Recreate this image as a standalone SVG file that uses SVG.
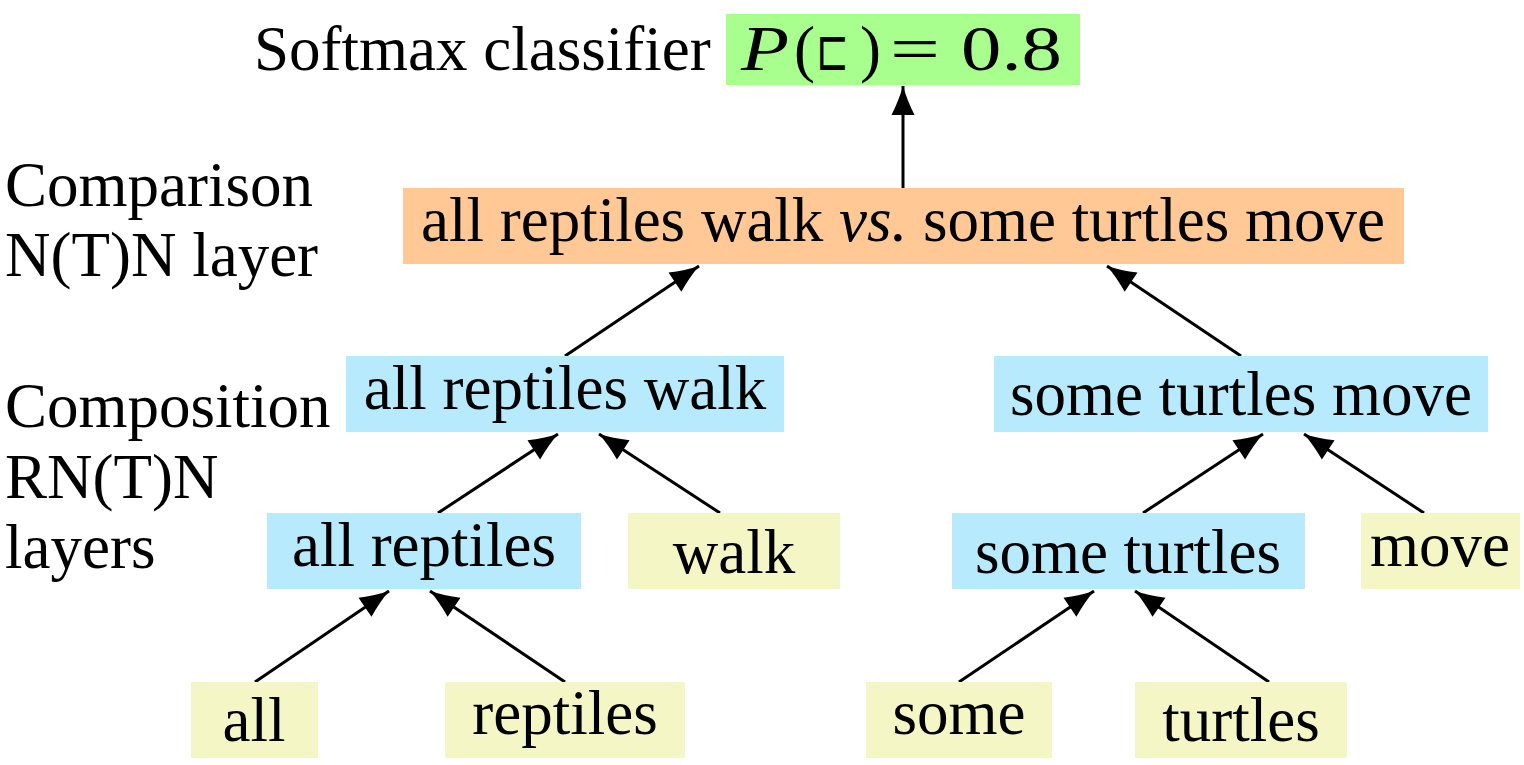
<svg xmlns="http://www.w3.org/2000/svg" width="1524" height="765" viewBox="0 0 1524 765">
<style>
text{font-family:"Liberation Serif","Times New Roman",serif;font-size:63px;fill:#000}
.c{text-anchor:middle}
.g{fill:#a9ff8e}
.o{fill:#ffc894}
.b{fill:#b8eafe}
.y{fill:#f4f7c5}
.e{stroke:#000;stroke-width:3;fill:none;marker-end:url(#ah)}
</style>
<defs>
<marker id="ah" markerUnits="userSpaceOnUse" viewBox="-32 -13 33 26" refX="0" refY="0" markerWidth="33" markerHeight="26" orient="auto" overflow="visible">
<path d="M0,0 Q-14,-4 -29,-11.5 L-29,11.5 Q-14,4 0,0 Z" fill="#000"/>
</marker>
</defs>
<g id="labels">
<text x="5" y="206">Comparison</text>
<text x="5" y="276">N(T)N layer</text>
<text x="5" y="427">Composition</text>
<text x="5" y="498">RN(T)N</text>
<text x="5" y="568">layers</text>
<text x="254" y="70">Softmax classifier</text>
</g>
<g id="edges">
<line class="e" x1="903" y1="188" x2="903" y2="86"/>
<line class="e" x1="565" y1="356" x2="699" y2="266"/>
<line class="e" x1="1241" y1="356" x2="1107" y2="266"/>
<line class="e" x1="438" y1="513" x2="558" y2="434"/>
<line class="e" x1="720" y1="513" x2="599" y2="434"/>
<line class="e" x1="1143" y1="513" x2="1263" y2="434"/>
<line class="e" x1="1424" y1="513" x2="1304" y2="434"/>
<line class="e" x1="255" y1="682" x2="389" y2="591"/>
<line class="e" x1="565" y1="682" x2="430" y2="591"/>
<line class="e" x1="959" y1="682" x2="1094" y2="591"/>
<line class="e" x1="1269" y1="682" x2="1135" y2="591"/>
</g>
<g id="softmax">
<rect class="g" x="726" y="14" width="354" height="71"/>
<text y="70"><tspan x="741" font-style="italic" textLength="48" lengthAdjust="spacingAndGlyphs">P</tspan><tspan x="794">(</tspan><tspan x="816" font-family="DejaVu Sans" font-size="58" textLength="33" lengthAdjust="spacingAndGlyphs">⊏</tspan><tspan x="860">)</tspan><tspan x="890" textLength="50" lengthAdjust="spacingAndGlyphs">=</tspan><tspan x="961" textLength="101" lengthAdjust="spacingAndGlyphs">0.8</tspan></text>
</g>
<g id="comparison">
<rect class="o" x="403" y="188" width="1001" height="76"/>
<text class="c" x="903" y="241">all reptiles walk <tspan font-style="italic">vs.</tspan> some turtles move</text>
</g>
<g id="arw">
<rect class="b" x="346" y="356" width="438" height="76"/>
<text class="c" x="565" y="409">all reptiles walk</text>
</g>
<g id="stm">
<rect class="b" x="994" y="356" width="494" height="76"/>
<text class="c" x="1241" y="415">some turtles move</text>
</g>
<g id="ar">
<rect class="b" x="267" y="513" width="314" height="76"/>
<text class="c" x="424" y="566">all reptiles</text>
</g>
<g id="walk">
<rect class="y" x="628" y="513" width="212" height="76"/>
<text class="c" x="734" y="573">walk</text>
</g>
<g id="st">
<rect class="b" x="952" y="513" width="353" height="76"/>
<text class="c" x="1128" y="573">some turtles</text>
</g>
<g id="move">
<rect class="y" x="1361" y="513" width="159" height="76"/>
<text class="c" x="1440" y="566">move</text>
</g>
<g id="all">
<rect class="y" x="191" y="682" width="127" height="76"/>
<text class="c" x="254" y="741">all</text>
</g>
<g id="reptiles">
<rect class="y" x="445" y="682" width="240" height="76"/>
<text class="c" x="565" y="734">reptiles</text>
</g>
<g id="some">
<rect class="y" x="866" y="682" width="186" height="76"/>
<text class="c" x="959" y="734">some</text>
</g>
<g id="turtles">
<rect class="y" x="1135" y="682" width="212" height="76"/>
<text class="c" x="1241" y="741">turtles</text>
</g>
</svg>
